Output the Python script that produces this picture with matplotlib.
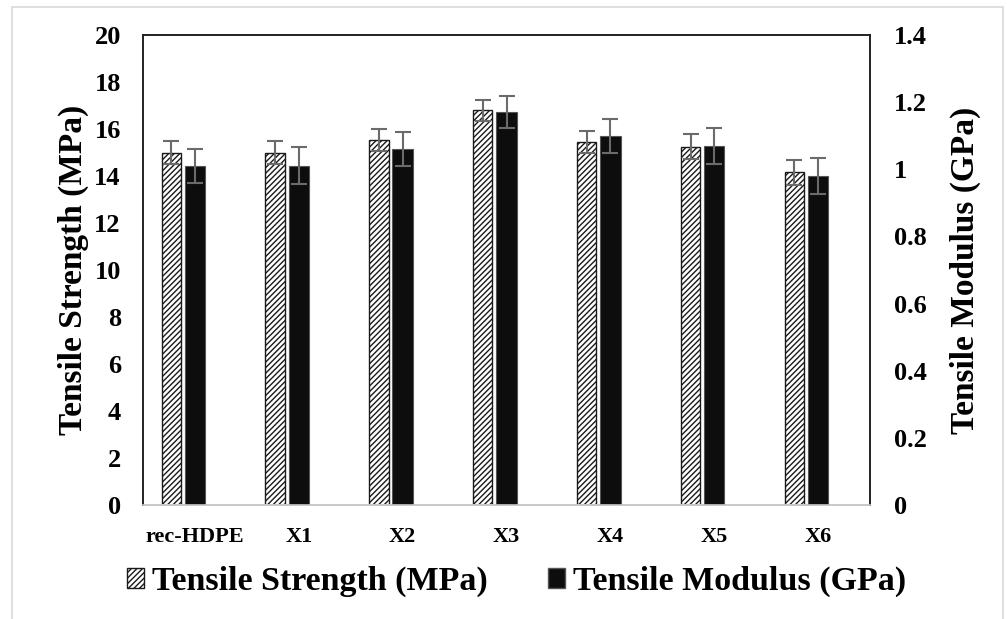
import matplotlib.pyplot as plt
import numpy as np
from matplotlib.patches import Rectangle, Patch
from matplotlib.ticker import FuncFormatter

# data
categories = ['rec-HDPE', 'X1', 'X2', 'X3', 'X4', 'X5', 'X6']
strength = [15.0, 15.0, 15.55, 16.8, 15.45, 15.25, 14.15]
strength_err = [0.5, 0.47, 0.47, 0.44, 0.47, 0.52, 0.52]
modulus = [1.01, 1.01, 1.06, 1.17, 1.10, 1.07, 0.98]
modulus_err = [0.05, 0.055, 0.05, 0.047, 0.05, 0.054, 0.055]

plt.rcParams['font.family'] = ['Liberation Serif', 'DejaVu Serif']
plt.rcParams['font.weight'] = 'bold'
plt.rcParams['hatch.linewidth'] = 1.0

fig = plt.figure(figsize=(10.07, 6.19), dpi=100)
# light frame around the whole picture
fig.patches.append(Rectangle((12 / 1007, -0.05), (1003 - 12) / 1007, 1.05 - 7 / 619,
                             transform=fig.transFigure, fill=False,
                             edgecolor='#d9d9d9', linewidth=1.2))

ax = fig.add_axes([143 / 1007, 114 / 619, (870 - 143) / 1007, (505 - 35) / 619])
ax2 = ax.twinx()

x = np.arange(len(categories))
w = 0.185
err_kw = dict(ecolor='#6b6b6b', elinewidth=1.5, capsize=6, capthick=1.5)

ax.bar(x - 0.228, strength, w, yerr=strength_err, color='white', edgecolor='#1a1a1a',
       hatch='//////', linewidth=1.0, error_kw=err_kw, zorder=2)
ax2.bar(x, modulus, w + 0.012, yerr=modulus_err, color='#0d0d0d', edgecolor='#555555',
        linewidth=0.8, error_kw=err_kw, zorder=2)

ax.set_xlim(-0.5, len(categories) - 0.5)
ax.set_ylim(0, 20)
ax2.set_ylim(0, 1.4)
ax.set_yticks(np.arange(0, 21, 2))
ax2.set_yticks(np.arange(0, 1.41, 0.2))
ax2.yaxis.set_major_formatter(FuncFormatter(lambda v, p: f'{v:g}' if v else '0'))
ax.set_xticks(x)
ax.set_xticklabels(categories)

ax.tick_params(axis='y', length=0, labelsize=19, pad=16)
ax2.tick_params(axis='y', length=0, labelsize=19, pad=17)
ax.tick_params(axis='x', length=0, labelsize=16, pad=16)

for a in (ax, ax2):
    for s in ('left', 'right', 'top'):
        a.spines[s].set_color('#222222')
        a.spines[s].set_linewidth(1.2)
    a.spines['bottom'].set_color('#c8c8c8')
    a.spines['bottom'].set_linewidth(1.2)

ax.set_ylabel('Tensile Strength (MPa)', fontsize=24, fontweight='bold', labelpad=4)
ax2.set_ylabel('Tensile Modulus (GPa)', fontsize=24, fontweight='bold', labelpad=17)

handles = [Patch(facecolor='white', edgecolor='#1a1a1a', hatch='//////', linewidth=1.0),
           Patch(facecolor='#0d0d0d', edgecolor='#555555')]
fig.legend(handles, ['Tensile Strength (MPa)', 'Tensile Modulus (GPa)'],
           loc='center', bbox_to_anchor=(0.513, 0.06), ncol=2, frameon=False,
           fontsize=24.5, handlelength=0.5, handleheight=0.5, handletextpad=0.25,
           columnspacing=1.75)

fig.savefig('out.png', dpi=100)
